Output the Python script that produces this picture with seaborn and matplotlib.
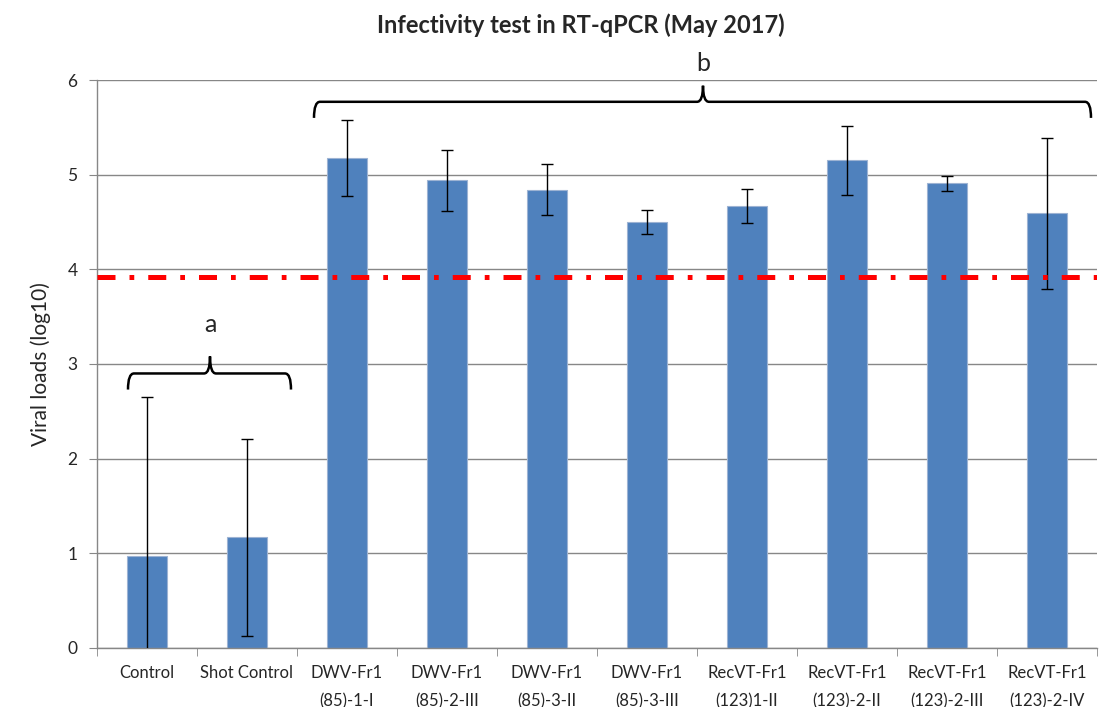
import numpy as np
import pandas as pd
import seaborn as sns
import matplotlib.pyplot as plt
from matplotlib.path import Path
from matplotlib.patches import PathPatch

# Values
categories = ["Control", "Shot Control",
              "DWV-Fr1\n(85)-1-I", "DWV-Fr1\n(85)-2-III", "DWV-Fr1\n(85)-3-II", "DWV-Fr1\n(85)-3-III",
              "RecVT-Fr1\n(123)1-II", "RecVT-Fr1\n(123)-2-II", "RecVT-Fr1\n(123)-2-III", "RecVT-Fr1\n(123)-2-IV"]
viral_loads = [0.97, 1.17, 5.18, 4.94, 4.84, 4.50, 4.67, 5.15, 4.91, 4.59]
errors = [1.68, 1.04, 0.40, 0.32, 0.27, 0.125, 0.18, 0.36, 0.08, 0.795]
threshold = 3.92

df = pd.DataFrame({"Sample": categories, "Load": viral_loads, "Err": errors})

sns.set_style("white")
plt.rcParams['font.family'] = ['Lato', 'DejaVu Sans']

fig = plt.figure(figsize=(11.11, 7.07), dpi=100)
ax = fig.add_axes([0.0873, 0.0835, 0.9001, 0.8033])

sns.barplot(data=df, x="Sample", y="Load", color="#4F81BD", saturation=1,
            width=0.4, errorbar=None, edgecolor="#9DB3D3", linewidth=0.8, ax=ax, zorder=2)
ax.errorbar(np.arange(len(categories)), df["Load"], yerr=df["Err"], fmt="none",
            ecolor="black", elinewidth=1, capsize=4, capthick=1, zorder=3)

# detection threshold
ax.axhline(threshold, color="#FF0000", lw=3.6, linestyle=(0, (3.6, 2.8, 0.95, 2.8)),
           dash_capstyle="butt", zorder=4)

ax.set_xlim(-0.5, len(categories) - 0.5)
ax.set_ylim(0, 6)
ax.set_yticks(range(7))
ax.yaxis.grid(True, color="#878787", lw=1)
ax.set_axisbelow(True)
for s in ["top", "right"]:
    ax.spines[s].set_visible(False)
for s in ["left", "bottom"]:
    ax.spines[s].set_color("#878787")
    ax.spines[s].set_linewidth(1)

ax.set_xticks(np.arange(len(categories)))
ax.set_xticklabels(categories, fontsize=12, linespacing=1.95)
ax.set_xticks(np.arange(-0.5, len(categories)), minor=True)
ax.tick_params(axis="x", which="major", length=0, pad=12)
ax.tick_params(axis="x", which="minor", length=6, color="#878787", direction="out", bottom=True)
ax.tick_params(axis="y", length=6, color="#878787", direction="out", left=True, labelsize=12.5, pad=8)
ax.set_xlabel("")
ax.set_ylabel("Viral loads (log10)", fontsize=15, labelpad=12)


def brace(x0, x1, xm, y_line, y_end, y_tip, dx=0.1):
    verts = [(x0, y_end), (x0, y_line), (x0 + dx, y_line),
             (xm - dx, y_line), (xm, y_line), (xm, y_tip),
             (xm, y_line), (xm + dx, y_line),
             (x1 - dx, y_line), (x1, y_line), (x1, y_end)]
    codes = [Path.MOVETO, Path.CURVE3, Path.CURVE3,
             Path.LINETO, Path.CURVE3, Path.CURVE3,
             Path.CURVE3, Path.CURVE3,
             Path.LINETO, Path.CURVE3, Path.CURVE3]
    ax.add_patch(PathPatch(Path(verts, codes), fill=False, lw=1.8, color="black",
                           capstyle="butt", zorder=5, clip_on=False))


brace(-0.19, 1.44, 0.63, 2.9, 2.73, 3.08, dx=0.06)
ax.text(0.63, 3.3, "a", ha="center", va="bottom", fontsize=18)
brace(1.67, 9.44, 5.56, 5.77, 5.6, 5.94, dx=0.06)
ax.text(5.56, 6.05, "b", ha="center", va="bottom", fontsize=18, clip_on=False)

fig.text(0.523, 0.965, "Infectivity test in RT-qPCR (May 2017)", ha="center", va="center",
         fontsize=17, fontweight="bold")

fig.savefig("out.png", dpi=100)
